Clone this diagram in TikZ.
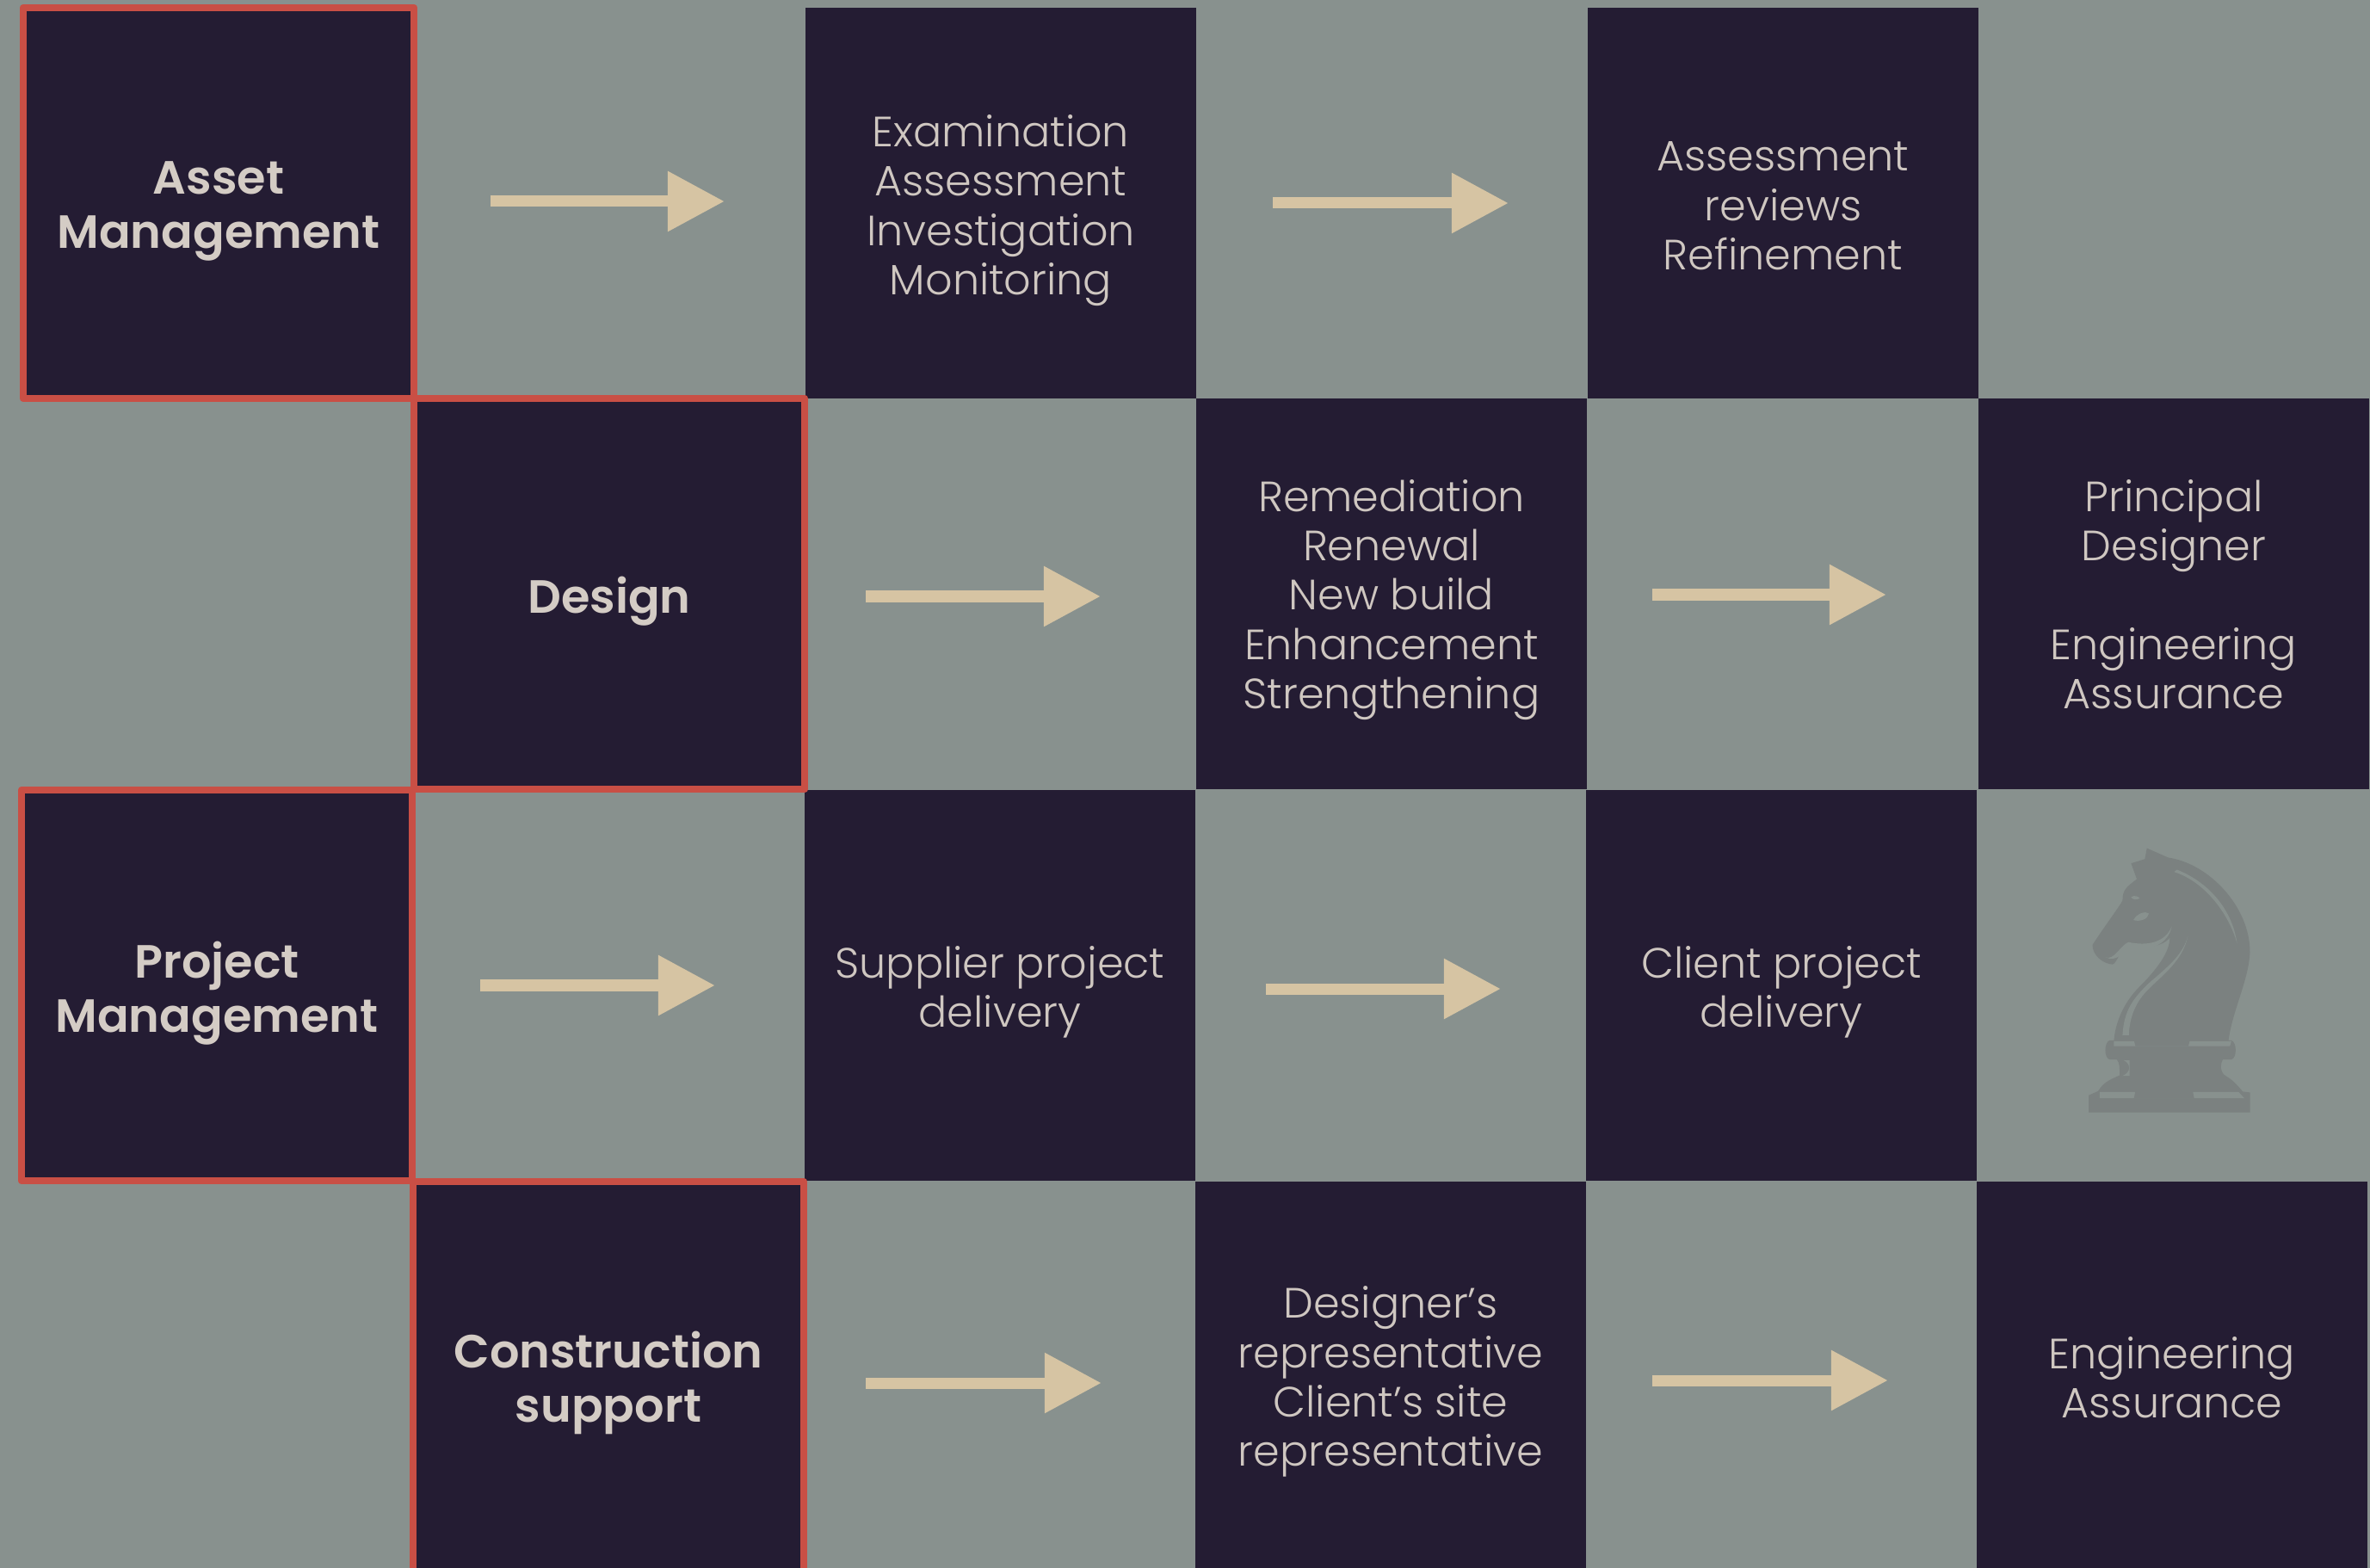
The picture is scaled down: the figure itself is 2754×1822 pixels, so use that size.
\documentclass[tikz,border=0pt]{standalone}
\usepackage{fontspec}
\setmainfont{Poppins Light}
\newfontfamily\headfont{Poppins SemiBold}
\usetikzlibrary{arrows.meta}
\definecolor{boardgrey}{HTML}{88918E}
\definecolor{cellink}{HTML}{241C33}
\definecolor{framered}{HTML}{C94F45}
\definecolor{bodytext}{HTML}{CFC7C1}
\definecolor{headtext}{HTML}{D4CCC5}
\definecolor{flowtan}{HTML}{D6C4A3}
\definecolor{knightgrey}{HTML}{7B8180}
\tikzset{
  cell/.style={fill=cellink,text=bodytext,minimum width=4.54cm,minimum height=4.54cm,inner sep=0pt,outer sep=0pt,align=center,font=\fontsize{14}{16.3}\selectfont},
  headcell/.style={cell,draw=framered,line width=0.08cm,line join=round,text=headtext,font=\headfont\fontsize{15.4}{17.9}\selectfont},
  lastbase/.style={execute at begin node={\rule[-10pt]{0pt}{\dimexpr20pt+#1*2\relax}}},
  flow/.style={draw=flowtan,line width=0.13cm,-{Triangle[length=0.66cm,width=0.67cm,flowtan]}}
}
\begin{document}
\begin{tikzpicture}[x=0.01cm,y=-0.01cm]
\useasboundingbox (0,0) rectangle (2754,1822);
\fill [boardgrey] (0,0) rectangle (2754,1822);
\node [cell,lastbase=30.25pt] (examine) at (1163,236) {Examination\\Assessment\\Investigation\\Monitoring};
\node [cell,lastbase=22pt] (review) at (2072,236) {Assessment\\reviews\\Refinement};
\node [cell,lastbase=38pt] (remedy) at (1617,690) {Remediation\\Renewal\\New build\\Enhancement\\Strengthening};
\node [cell,lastbase=38pt] (principal) at (2526,690) {Principal\\Designer\\[16.3pt]Engineering\\Assurance};
\node [cell,lastbase=13.75pt] (supplier) at (1162,1145) {Supplier project\\delivery};
\node [cell,lastbase=13.75pt] (client) at (2070,1145) {Client project\\delivery};
\node [cell,lastbase=29.5pt] (representative) at (1616,1600) {Designer’s\\representative\\Client’s site\\representative};
\node [cell,lastbase=13.5pt] (assurance) at (2524,1600) {Engineering\\Assurance};
\node [headcell,lastbase=15pt] (asset) at (254,236) {Asset\\Management};
\node [headcell,lastbase=6.5pt] (design) at (708,690) {Design};
\node [headcell,lastbase=15.5pt] (project) at (252,1145) {Project\\Management};
\node [headcell,lastbase=15pt] (support) at (707,1600) {Construction\\support};
\draw [flow] ([xshift=0.89cm,yshift=0.02cm]asset.east) -- ([xshift=-0.94cm,yshift=0.02cm]examine.west);
\draw [flow] ([xshift=0.89cm,yshift=0cm]examine.east) -- ([xshift=-0.92cm,yshift=0cm]review.west);
\draw [flow] ([xshift=0.71cm,yshift=-0.03cm]design.east) -- ([xshift=-1.11cm,yshift=-0.03cm]remedy.west);
\draw [flow] ([xshift=0.76cm,yshift=-0.01cm]remedy.east) -- ([xshift=-1.07cm,yshift=-0.01cm]principal.west);
\draw [flow] ([xshift=0.79cm,yshift=0cm]project.east) -- ([xshift=-1.04cm,yshift=0cm]supplier.west);
\draw [flow] ([xshift=0.82cm,yshift=-0.04cm]supplier.east) -- ([xshift=-0.99cm,yshift=-0.04cm]client.west);
\draw [flow] ([xshift=0.72cm,yshift=-0.07cm]support.east) -- ([xshift=-1.09cm,yshift=-0.07cm]representative.west);
\draw [flow] ([xshift=0.77cm,yshift=-0.04cm]representative.east) -- ([xshift=-1.03cm,yshift=-0.04cm]assurance.west);
\begin{scope}[shift={(2300,920)},x=0.003333cm,y=-0.003333cm]
\fill [knightgrey] (585,197) -- (660,230) .. controls (800,250) and (945,400) .. (945,560)
  .. controls (940,660) and (885,760) .. (870,868) -- (880,868) .. controls (900,875) and (900,930) .. (880,935)
  -- (850,935) .. controls (835,965) and (850,990) .. (865,995) .. controls (890,1010) and (905,1030) .. (920,1047)
  -- (945,1050) -- (945,1120) -- (382,1120) -- (382,1060) -- (415,1045)
  .. controls (435,1010) and (470,1000) .. (490,990) .. controls (490,965) and (490,945) .. (480,935)
  -- (455,935) .. controls (435,930) and (435,875) .. (455,868) -- (470,868)
  .. controls (475,810) and (500,740) .. (560,680) .. controls (620,620) and (665,560) .. (665,510)
  .. controls (640,540) and (590,548) .. (520,530) .. controls (495,545) and (480,600) .. (465,603)
  .. controls (430,600) and (395,570) .. (395,535) .. controls (430,480) and (490,400) .. (500,380)
  .. controls (500,345) and (510,335) .. (550,305) -- (530,250) -- (578,235) -- cycle;
\fill [boardgrey] (690,272) .. controls (810,320) and (885,420) .. (900,530) .. controls (870,420) and (780,310) .. (680,280) -- cycle;
\fill [boardgrey] (530,368) .. controls (540,360) and (555,365) .. (560,372) .. controls (550,378) and (535,378) .. (530,368) -- cycle;
\fill [boardgrey] (538,448) .. controls (550,425) and (580,415) .. (592,425) .. controls (590,445) and (560,455) .. (538,448) -- cycle;
\fill [boardgrey] (440,578) .. controls (470,590) and (490,540) .. (520,525) .. controls (590,540) and (650,525) .. (672,470) .. controls (660,530) and (600,560) .. (525,545) .. controls (495,565) and (480,595) .. (440,578) -- cycle;
\fill [boardgrey] (500,850) .. controls (505,760) and (540,720) .. (590,670) .. controls (660,610) and (710,570) .. (728,505) .. controls (710,590) and (640,640) .. (590,690) .. controls (550,730) and (525,780) .. (522,850) -- cycle;
\fill [boardgrey] (470,871) -- (880,871) -- (875,888) -- (470,888) -- cycle;
\fill [knightgrey] (540,868) -- (735,868) -- (730,888) -- (545,888) -- cycle;
\fill [boardgrey] (420,1048) -- (905,1048) -- (925,1070) -- (420,1070) -- cycle;
\fill [knightgrey] (545,1045) -- (745,1045) -- (750,1070) -- (540,1070) -- cycle;
\fill [boardgrey] (505,938) .. controls (530,950) and (530,980) .. (500,992) -- (525,992) -- (525,938) -- cycle;
\end{scope}
\end{tikzpicture}
\end{document}
